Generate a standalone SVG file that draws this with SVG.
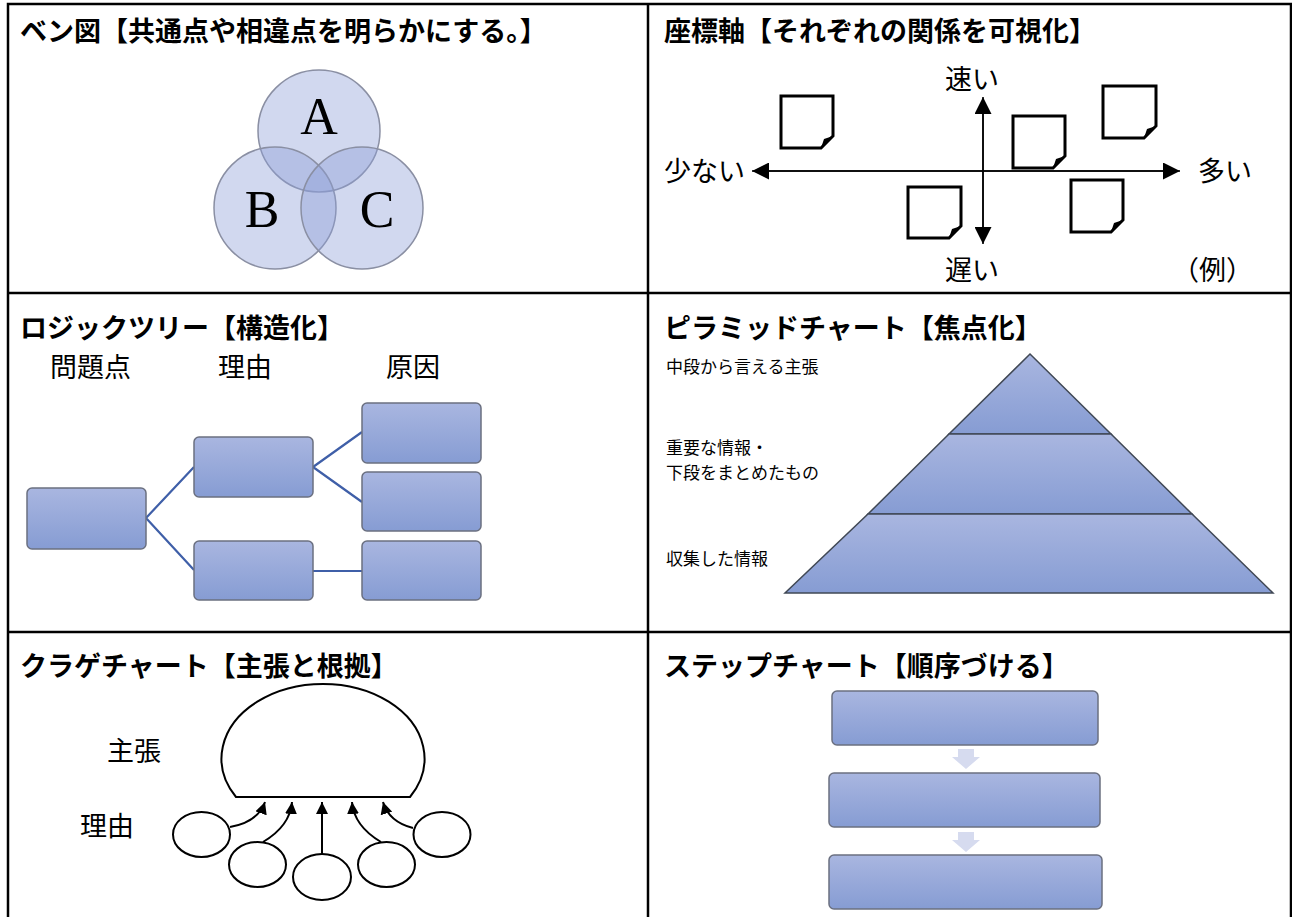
<svg xmlns="http://www.w3.org/2000/svg" width="1292" height="917" viewBox="0 0 1292 917">
<style>
.title{font-family:"Noto Sans CJK JP","Noto Sans",sans-serif;font-size:27px;font-weight:600;fill:#000}
.lbl{font-family:"Noto Sans CJK JP","Noto Sans",sans-serif;font-size:27px;fill:#000}
.small{font-family:"Noto Sans CJK JP","Noto Sans",sans-serif;font-size:17px;fill:#000}
.abc{font-family:"Liberation Serif",serif;font-size:52px;fill:#000;text-anchor:middle}
.grid{stroke:#000;stroke-width:2.5;fill:none}
.venn{fill:#8c9ed6;fill-opacity:0.4;stroke:#8a8fa3;stroke-width:1.5}
.box{fill:url(#boxg);stroke:#6b7080;stroke-width:1.5}
.tline{stroke:#3f5fa8;stroke-width:2.2;fill:none}
.note{fill:#fff;stroke:#000;stroke-width:3;stroke-linejoin:miter}
.axis{stroke:#000;stroke-width:1.5;fill:none}
.pyr{fill:url(#boxg);stroke:#404855;stroke-width:1.5}
.jf{fill:#fff;stroke:#000;stroke-width:2}
.jline{fill:none;stroke:#000;stroke-width:2}
.step{fill:#d6dbef}
</style>
<defs>
<linearGradient id="boxg" x1="0" y1="0" x2="0" y2="1">
<stop offset="0" stop-color="#a9b6e0"/>
<stop offset="1" stop-color="#869cd3"/>
</linearGradient>
<marker id="ah" viewBox="0 0 10 10" refX="10" refY="5" markerWidth="17" markerHeight="17" markerUnits="userSpaceOnUse" orient="auto">
<path d="M0,0 L10,5 L0,10 Z" fill="#000"/>
</marker>
<marker id="ahs" viewBox="0 0 10 10" refX="10" refY="5" markerWidth="12" markerHeight="12" markerUnits="userSpaceOnUse" orient="auto">
<path d="M0,0 L10,5 L0,10 Z" fill="#000"/>
</marker>
</defs>

<g id="grid">
<rect x="8" y="4" width="1283" height="930" class="grid"/>
<line x1="648" y1="4" x2="648" y2="917" class="grid"/>
<line x1="8" y1="293" x2="1291" y2="293" class="grid"/>
<line x1="8" y1="632" x2="1291" y2="632" class="grid"/>
</g>

<g id="titles">
<text class="title" x="20" y="41">ベン図【共通点や相違点を明らかにする。】</text>
<text class="title" x="664" y="41">座標軸【それぞれの関係を可視化】</text>
<text class="title" x="20" y="338">ロジックツリー【構造化】</text>
<text class="title" x="664" y="338">ピラミッドチャート【焦点化】</text>
<text class="title" x="20" y="676">クラゲチャート【主張と根拠】</text>
<text class="title" x="664" y="676">ステップチャート【順序づける】</text>
</g>

<g id="venn">
<g id="venn-a"><circle class="venn" cx="319" cy="131" r="61"/><text class="abc" x="319" y="134">A</text></g>
<g id="venn-b"><circle class="venn" cx="275" cy="208" r="61"/></g>
<g id="venn-c"><circle class="venn" cx="362" cy="208" r="61"/></g>
<text class="abc" x="262" y="227">B</text>
<text class="abc" x="377" y="227">C</text>
</g>

<g id="axes">
<g id="axes-lines">
<line class="axis" x1="760" y1="171" x2="1180" y2="171" marker-end="url(#ah)"/>
<line class="axis" x1="1170" y1="171" x2="752" y2="171" marker-end="url(#ah)"/>
<line class="axis" x1="983" y1="230" x2="983" y2="97" marker-end="url(#ah)"/>
<line class="axis" x1="983" y1="110" x2="983" y2="244" marker-end="url(#ah)"/>
</g>
<text class="lbl" x="972" y="89" text-anchor="middle">速い</text>
<text class="lbl" x="972" y="280" text-anchor="middle">遅い</text>
<text class="lbl" x="664" y="181">少ない</text>
<text class="lbl" x="1198" y="181">多い</text>
<text class="lbl" x="1172" y="280">（例）</text>
<g id="note1"><path class="note" d="M781,96 H833 V136 L821,148 H781 Z"/><path d="M821,148 L824,139 L833,136 Z" fill="#000"/></g>
<g id="note2"><path class="note" d="M1013,116 H1065 V156 L1053,168 H1013 Z"/><path d="M1053,168 L1056,159 L1065,156 Z" fill="#000"/></g>
<g id="note3"><path class="note" d="M1103,86 H1156 V126 L1144,138 H1103 Z"/><path d="M1144,138 L1147,129 L1156,126 Z" fill="#000"/></g>
<g id="note4"><path class="note" d="M908,187 H961 V226 L949,238 H908 Z"/><path d="M949,238 L952,229 L961,226 Z" fill="#000"/></g>
<g id="note5"><path class="note" d="M1071,180 H1123 V220 L1111,232 H1071 Z"/><path d="M1111,232 L1114,223 L1123,220 Z" fill="#000"/></g>
</g>

<g id="logic-tree">
<text class="lbl" x="50" y="377">問題点</text>
<text class="lbl" x="218" y="377">理由</text>
<text class="lbl" x="386" y="377">原因</text>
<g id="tree-connectors">
<path class="tline" d="M146,518 L194,467 M146,518 L194,570 M313,467 L362,432 M313,467 L362,502 M313,571 L362,571"/>
</g>
<g id="t-root"><rect class="box" x="27" y="488" width="119" height="61" rx="5"/></g>
<g id="t-r1"><rect class="box" x="194" y="437" width="119" height="60" rx="5"/></g>
<g id="t-r2"><rect class="box" x="194" y="541" width="119" height="59" rx="5"/></g>
<g id="t-c1"><rect class="box" x="362" y="403" width="119" height="60" rx="5"/></g>
<g id="t-c2"><rect class="box" x="362" y="472" width="119" height="59" rx="5"/></g>
<g id="t-c3"><rect class="box" x="362" y="541" width="119" height="59" rx="5"/></g>
</g>

<g id="pyramid">
<g id="pyr-top"><path class="pyr" d="M1030,354 L1111,434 L949,434 Z"/></g>
<g id="pyr-mid"><path class="pyr" d="M949,434 L1111,434 L1192,514 L868,514 Z"/></g>
<g id="pyr-bot"><path class="pyr" d="M868,514 L1192,514 L1273,593 L785,593 Z"/></g>
<text class="small" x="666" y="373">中段から言える主張</text>
<text class="small" x="666" y="454">重要な情報・</text>
<text class="small" x="666" y="479">下段をまとめたもの</text>
<text class="small" x="666" y="565">収集した情報</text>
</g>

<g id="jellyfish">
<text class="lbl" x="107" y="761">主張</text>
<text class="lbl" x="80" y="836">理由</text>
<g id="jf-head"><path class="jf" d="M236,797 A101.5,74.6 0 1 1 410,797 Z"/></g>
<g id="jf-r1"><ellipse class="jf" cx="201.5" cy="834.5" rx="28.5" ry="22.5"/></g>
<g id="jf-r2"><ellipse class="jf" cx="257.5" cy="864.5" rx="28.5" ry="22.5"/></g>
<g id="jf-r3"><ellipse class="jf" cx="322" cy="877" rx="29" ry="23"/></g>
<g id="jf-r4"><ellipse class="jf" cx="386.5" cy="864.5" rx="28.5" ry="22.5"/></g>
<g id="jf-r5"><ellipse class="jf" cx="442" cy="834.5" rx="28.5" ry="22.5"/></g>
<g id="jf-connectors">
<path class="jline" d="M230,827 Q258,822 265,802" marker-end="url(#ahs)"/>
<path class="jline" d="M263,842 Q290,826 292,802" marker-end="url(#ahs)"/>
<path class="jline" d="M322,854 L322,802" marker-end="url(#ahs)"/>
<path class="jline" d="M381,842 Q354,826 352,802" marker-end="url(#ahs)"/>
<path class="jline" d="M413,828 Q389,822 383,802" marker-end="url(#ahs)"/>
</g>
</g>

<g id="step-chart">
<g id="step1"><rect class="box" x="832" y="691" width="266" height="54" rx="5"/></g>
<g id="step2"><rect class="box" x="829" y="773" width="271" height="54" rx="5"/></g>
<g id="step3"><rect class="box" x="829" y="855" width="273" height="54" rx="5"/></g>
<g id="step-connectors">
<path class="step" d="M958,749 H974 V757 H980 L966,769 L952,757 H958 Z"/>
<path class="step" d="M958,832 H974 V840 H980 L966,852 L952,840 H958 Z"/>
</g>
</g>
</svg>
